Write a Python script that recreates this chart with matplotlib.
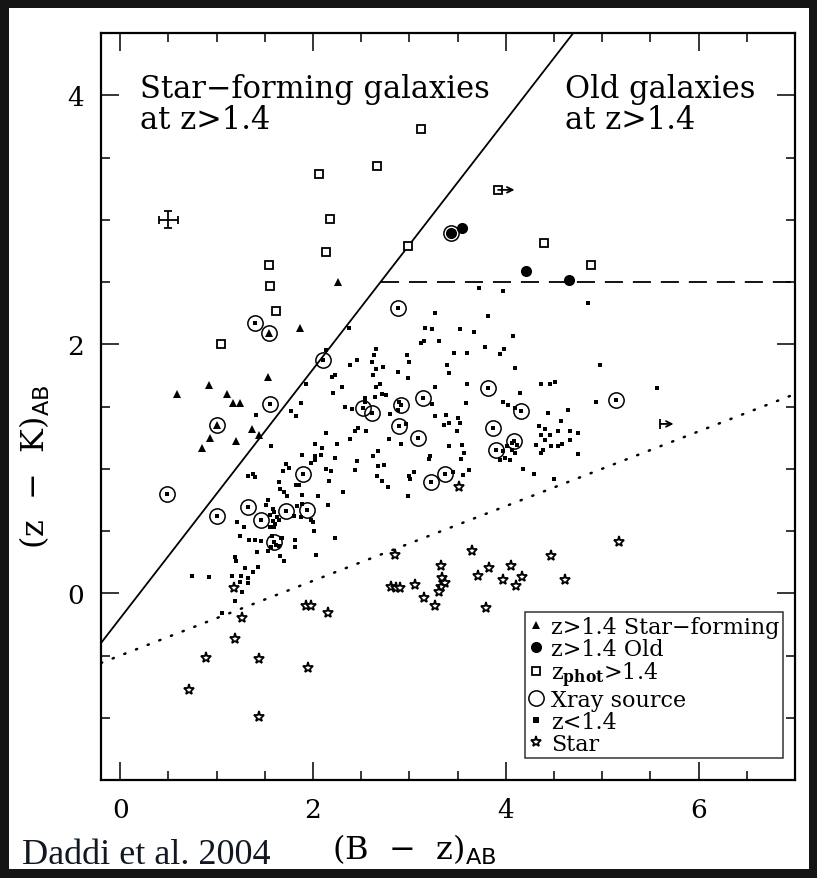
import matplotlib
matplotlib.use("Agg")
import matplotlib.pyplot as plt
from matplotlib.lines import Line2D
from matplotlib.patches import Rectangle
from matplotlib.ticker import MultipleLocator

plt.rcParams['mathtext.fontset'] = 'dejavuserif'

# ---- data: (B-z)_AB, (z-K)_AB ----
sf_x = [0.59, 0.92, 1.11, 1.17, 1.24, 1.00, 0.93, 0.85, 1.20, 1.37, 1.44, 1.53, 1.54, 1.86, 2.26]
sf_y = [1.60, 1.67, 1.60, 1.53, 1.53, 1.35, 1.25, 1.17, 1.22, 1.32, 1.27, 1.74, 2.09, 2.13, 2.50]

old_x = [3.43, 3.55, 4.21, 4.66]
old_y = [2.89, 2.93, 2.59, 2.52]

phot_x = [3.12, 2.66, 2.06, 2.18, 2.13, 2.99, 1.54, 1.55, 1.62, 1.05, 4.40, 4.88, 3.92]
phot_y = [3.73, 3.43, 3.37, 3.01, 2.74, 2.79, 2.64, 2.47, 2.27, 2.00, 2.81, 2.64, 3.24]

xray_x = [1.40, 1.54, 2.10, 1.55, 1.00, 0.48, 1.00, 1.90, 1.33, 1.46, 1.72, 1.94, 1.59,
          2.88, 3.82, 3.14, 2.52, 2.61, 2.91, 4.16, 2.89, 3.87, 3.09, 4.08, 3.90, 3.37,
          3.22, 5.14, 3.43]
xray_y = [2.17, 2.09, 1.87, 1.52, 1.35, 0.80, 0.62, 0.96, 0.69, 0.59, 0.66, 0.67, 0.41,
          2.29, 1.65, 1.57, 1.49, 1.45, 1.51, 1.46, 1.34, 1.33, 1.25, 1.22, 1.15, 0.96,
          0.89, 1.55, 2.89]

lowz_x = [2.13, 2.20, 2.23, 1.93, 2.21, 1.87, 1.77, 1.82, 1.41, 2.13, 1.56, 2.02, 2.09,
          2.25, 1.89, 2.02, 2.08, 2.23, 2.02, 1.98, 1.72, 1.75, 1.69, 2.13, 2.19, 2.17,
          1.32, 1.38, 1.40, 1.65, 1.82, 1.85, 1.66, 1.70, 1.73, 1.89, 2.05, 2.15, 1.83,
          1.89, 1.53, 1.51, 1.58, 1.55, 1.59, 1.63, 1.65, 1.58, 1.61, 1.55, 1.59, 1.80,
          1.87, 1.98, 2.00, 1.21, 1.28, 1.24, 1.34, 1.40, 1.46, 1.67, 1.81, 1.81, 2.01,
          2.23, 1.62, 1.65, 1.56,
          0.74, 0.92, 1.16, 1.25, 1.29, 1.38, 1.43, 1.20, 1.24, 1.33, 1.32, 1.26, 1.19,
          1.06, 1.42, 1.53, 1.57, 1.68, 1.66, 1.70, 2.03, 1.19,
          3.72, 3.97, 3.26, 3.81, 2.37, 3.16, 3.23, 3.52, 3.67, 4.07, 3.12, 3.15, 3.31,
          3.78, 3.98, 3.94, 3.46, 3.60, 2.65, 2.97, 3.00, 2.63, 2.61, 2.46, 2.38, 2.65,
          2.73, 3.39, 3.41, 4.10, 2.62, 2.88, 2.98, 2.30, 2.65, 2.69, 3.26, 3.60, 2.72,
          2.76, 2.64, 2.54, 2.54, 2.33, 2.40, 2.89, 2.88, 3.23, 2.80, 3.59, 3.97, 4.02,
          4.15, 4.10, 4.37, 4.46, 4.51, 4.44, 4.64, 4.98, 4.85, 4.94, 2.47, 2.44, 2.55,
          2.96, 3.38, 3.36, 3.41, 3.50, 3.52, 3.49, 3.27, 2.79, 2.91, 2.38, 3.41, 3.55,
          3.57, 3.53, 2.67, 2.62, 3.21, 3.20, 2.46, 2.74, 2.67, 2.44, 2.66, 2.72, 2.78,
          3.00, 3.05, 3.01, 3.62, 3.56, 3.45, 4.18, 4.29, 4.50, 2.31, 2.99,
          4.34, 4.41, 4.46, 4.54, 4.57, 4.67, 4.75, 4.36, 4.41, 4.47, 4.54, 4.58, 4.67,
          4.31, 4.39, 4.37, 4.75,
          4.01, 4.06, 4.09, 3.97, 3.94, 3.99, 4.04, 4.12, 4.06, 5.57,
          # inside X-ray rings
          1.40, 2.10, 1.55, 0.48, 1.00, 1.90, 1.33, 1.46, 1.72, 1.94, 1.59, 2.88, 3.82,
          3.14, 2.52, 2.61, 2.91, 4.16, 2.89, 3.87, 3.09, 4.08, 3.90, 3.37, 3.22, 5.14]
lowz_y = [1.95, 1.74, 1.75, 1.68, 1.61, 1.53, 1.46, 1.42, 1.43, 1.29, 1.18, 1.20, 1.17,
          1.20, 1.11, 1.10, 1.11, 1.09, 1.07, 1.05, 1.04, 1.01, 0.98, 1.00, 0.98, 0.90,
          0.94, 0.96, 0.93, 0.89, 0.87, 0.87, 0.84, 0.81, 0.78, 0.79, 0.78, 0.71, 0.70,
          0.72, 0.75, 0.71, 0.68, 0.63, 0.65, 0.61, 0.59, 0.58, 0.56, 0.53, 0.53, 0.62,
          0.61, 0.59, 0.57, 0.57, 0.53, 0.46, 0.43, 0.43, 0.42, 0.44, 0.43, 0.37, 0.50,
          0.44, 0.39, 0.38, 0.37,
          0.14, 0.13, 0.14, 0.14, 0.20, 0.17, 0.21, 0.26, 0.09, 0.08, 0.12, 0.01, -0.06,
          -0.16, 0.33, 0.34, 0.46, 0.44, 0.30, 0.26, 0.31, 0.29,
          2.45, 2.43, 2.25, 2.23, 2.13, 2.13, 2.12, 2.12, 2.10, 2.07, 2.01, 2.03, 2.03,
          1.98, 1.96, 1.92, 1.93, 1.93, 1.96, 1.91, 1.86, 1.91, 1.86, 1.87, 1.83, 1.80,
          1.82, 1.83, 1.77, 1.81, 1.75, 1.78, 1.73, 1.66, 1.66, 1.68, 1.66, 1.68, 1.60,
          1.59, 1.58, 1.57, 1.54, 1.50, 1.48, 1.54, 1.47, 1.52, 1.44, 1.53, 1.54, 1.51,
          1.61, 1.49, 1.68, 1.68, 1.70, 1.45, 1.47, 1.83, 2.33, 1.54, 1.33, 1.30, 1.30,
          1.36, 1.43, 1.35, 1.37, 1.41, 1.37, 1.30, 1.42, 1.24, 1.20, 1.24, 1.18, 1.19,
          1.13, 1.08, 1.14, 1.10, 1.10, 1.08, 1.06, 1.03, 1.02, 0.99, 0.94, 0.90, 0.85,
          0.94, 0.97, 0.92, 0.99, 0.95, 0.97, 1.00, 0.96, 0.92, 0.81, 0.78,
          1.34, 1.32, 1.27, 1.30, 1.38, 1.30, 1.29, 1.27, 1.23, 1.18, 1.18, 1.20, 1.23,
          1.19, 1.15, 1.13, 1.12,
          1.18, 1.15, 1.13, 1.14, 1.07, 1.09, 1.07, 1.19, 1.21, 1.65,
          2.17, 1.87, 1.52, 0.80, 0.62, 0.96, 0.69, 0.59, 0.66, 0.67, 0.41, 2.29, 1.65,
          1.57, 1.49, 1.45, 1.51, 1.46, 1.34, 1.33, 1.25, 1.22, 1.15, 0.96, 0.89, 1.55]

star_x = [1.18, 1.26, 1.19, 0.89, 1.44, 1.95, 0.71, 1.44, 1.93, 1.98, 2.16, 2.85, 2.81,
          2.86, 2.90, 3.06, 3.15, 3.27, 3.33, 3.34, 3.37, 3.33, 3.31, 3.65, 3.71, 3.51,
          5.17, 4.47, 3.83, 4.05, 3.97, 4.17, 4.11, 4.61, 3.79]
star_y = [0.04, -0.20, -0.37, -0.52, -0.53, -0.60, -0.78, -0.99, -0.10, -0.10, -0.16, 0.31, 0.05,
          0.04, 0.04, 0.07, -0.04, -0.10, 0.22, 0.12, 0.08, 0.05, 0.01, 0.34, 0.14, 0.85,
          0.41, 0.30, 0.20, 0.22, 0.11, 0.13, 0.06, 0.11, -0.12]

# lower limits (arrows) and typical error bar
limit_sq = (3.92, 3.24)
limit_pt = (5.60, 1.36)
err_pt = (0.5, 3.0)
err_xy = (0.10, 0.07)

# selection lines
xlim = (-0.2, 7.0)
ylim = (-1.5, 4.5)
bzk_cut = -0.2      # (z-K) - (B-z) = -0.2
old_cut = 2.5
star_a, star_b = 0.3, -0.5

fig = plt.figure(figsize=(8.17, 8.79), dpi=100, facecolor='#151515')
fig.patches.append(Rectangle((9 / 817, 9 / 879), 800 / 817, 861 / 879,
                             transform=fig.transFigure, facecolor='white',
                             edgecolor='none', zorder=-10))
ax = fig.add_axes([101 / 817, 1 - 781 / 879, 694 / 817, 747 / 879])

serif = 'DejaVu Serif'

# lines
ax.plot([xlim[0], ylim[1] - bzk_cut], [xlim[0] + bzk_cut, ylim[1]], color='black', lw=1.3)
ax.plot([old_cut - bzk_cut, xlim[1]], [old_cut, old_cut], color='black', lw=1.3,
        dashes=(10, 5.5))
ax.plot([xlim[0], xlim[1]], [star_a * xlim[0] + star_b, star_a * xlim[1] + star_b],
        color='black', lw=1.8, dashes=(0.5, 4.5), dash_capstyle='round')

# points
ax.plot(lowz_x, lowz_y, 's', color='black', ms=2.6, mew=0, ls='none')
ax.plot(xray_x, xray_y, 'o', mfc='none', mec='black', ms=11, mew=1.1, ls='none')
ax.plot(sf_x, sf_y, '^', color='black', ms=6, mew=0, ls='none')
ax.plot(old_x, old_y, 'o', color='black', ms=8, mew=0, ls='none')
ax.plot(phot_x, phot_y, 's', mfc='white', mec='black', ms=5.5, mew=1.3, ls='none')
ax.plot(star_x, star_y, '*', mfc='white', mec='black', ms=8, mew=1.3, ls='none')

ax.annotate('', xy=(limit_sq[0] + 0.17, limit_sq[1]), xytext=(limit_sq[0], limit_sq[1]),
            arrowprops=dict(arrowstyle='->', lw=1.3, color='black', shrinkA=0, shrinkB=0))
ax.annotate('', xy=(limit_pt[0] + 0.14, limit_pt[1]), xytext=(limit_pt[0], limit_pt[1]),
            arrowprops=dict(arrowstyle='->', lw=1.3, color='black', shrinkA=0, shrinkB=0))
ax.plot([limit_pt[0]], [limit_pt[1]], '|', color='black', ms=7, mew=1.3)
ax.errorbar([err_pt[0]], [err_pt[1]], xerr=[err_xy[0]], yerr=[err_xy[1]], fmt='none',
            ecolor='black', elinewidth=1.3, capsize=2.7, capthick=1.3)

# region labels
ax.text(0.056, 0.914, 'Star\u2212forming galaxies', transform=ax.transAxes,
        fontsize=22, family=serif, va='baseline', ha='left')
ax.text(0.056, 0.873, 'at z>1.4', transform=ax.transAxes,
        fontsize=22, family=serif, va='baseline', ha='left')
ax.text(0.669, 0.914, 'Old galaxies', transform=ax.transAxes,
        fontsize=22, family=serif, va='baseline', ha='left')
ax.text(0.669, 0.873, 'at z>1.4', transform=ax.transAxes,
        fontsize=22, family=serif, va='baseline', ha='left')

ax.set_xlim(*xlim)
ax.set_ylim(*ylim)
ax.xaxis.set_major_locator(MultipleLocator(2))
ax.xaxis.set_minor_locator(MultipleLocator(0.5))
ax.yaxis.set_major_locator(MultipleLocator(2))
ax.yaxis.set_minor_locator(MultipleLocator(0.5))
ax.tick_params(which='both', direction='in', top=True, right=True, width=1.1)
ax.tick_params(which='major', length=13, pad=12, labelsize=19)
ax.tick_params(which='minor', length=6.5)
for lab in ax.get_xticklabels() + ax.get_yticklabels():
    lab.set_family(serif)
for s in ax.spines.values():
    s.set_linewidth(1.6)

fig.text(35 / 817, 1 - 467 / 879, r'(z  $-$  K)$_{\mathsf{AB}}$', rotation=90, fontsize=23,
         family=serif, ha='center', va='center')
fig.text(414 / 817, 1 - 850 / 879, r'(B  $-$  z)$_{\mathsf{AB}}$', fontsize=23,
         family=serif, ha='center', va='center')
fig.text(22 / 817, 1 - 864 / 879, 'Daddi et al. 2004', fontsize=26,
         family='Liberation Serif', ha='left', va='baseline', color='#111822')

handles = [
    Line2D([], [], marker='^', color='black', ms=6, mew=0, ls='none'),
    Line2D([], [], marker='o', color='black', ms=8, mew=0, ls='none'),
    Line2D([], [], marker='s', mfc='white', mec='black', ms=5.5, mew=1.3, ls='none'),
    Line2D([], [], marker='o', mfc='none', mec='black', ms=11, mew=1.1, ls='none'),
    Line2D([], [], marker='s', color='black', ms=4, mew=0, ls='none'),
    Line2D([], [], marker='*', mfc='white', mec='black', ms=8, mew=1.3, ls='none'),
]
labels = ['z>1.4 Star\u2212forming', 'z>1.4 Old', r'z$_{\mathbf{phot}}$>1.4',
          'Xray source', 'z<1.4', 'Star']
leg = ax.legend(handles, labels, loc='lower right', bbox_to_anchor=(0.982, 0.0295),
                borderaxespad=0, frameon=True, fancybox=False, handlelength=0.7,
                handletextpad=0.3, labelspacing=0.0, borderpad=0.15,
                prop={'family': serif, 'size': 16})
leg.get_frame().set_edgecolor('black')
leg.get_frame().set_linewidth(1.1)

fig.savefig('out.png', dpi=100, facecolor=fig.get_facecolor())
